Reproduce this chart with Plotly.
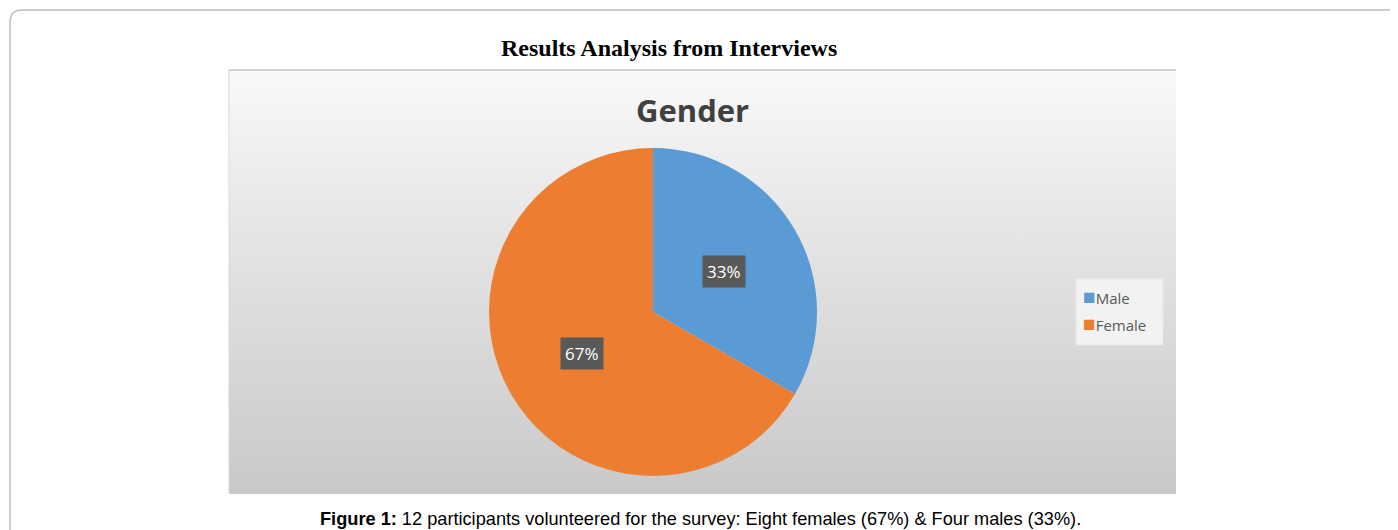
import math
import plotly.graph_objects as go

# ---- data ----
categories = ["Male", "Female"]
counts = [4, 8]
colors = ["#5B9BD5", "#ED7D31"]
page_title = "Results Analysis from Interviews"
chart_title = "Gender"
caption_bold = "Figure 1:"
caption_text = " 12 participants volunteered for the survey: Eight females (67%) & Four males (33%)."

OFF = 8                      # browser body margin
W, H = 1398 - OFF, 530 - OFF  # figure size


def fx(p):  # window pixel -> paper x
    return (p - OFF) / W


def fy(p):  # window pixel -> paper y
    return 1 - (p - OFF) / H


panel = (229, 70, 1176, 494)
pie_cx, pie_cy, pie_r = 653, 312, 164

fig = go.Figure()

px0, py0, px1, py1 = panel
fig.add_trace(go.Scatter(
    x=[px0, px1, px1, px0, px0], y=[py0, py0, py1, py1, py0],
    mode="lines", line=dict(width=0), fill="toself",
    fillgradient=dict(type="vertical",
                      colorscale=[[0, "#c9c9c9"], [0.55, "#e2e2e2"], [1, "#f9f9f9"]]),
    hoverinfo="skip", showlegend=False))

fig.add_trace(go.Pie(
    labels=categories, values=counts, sort=False, direction="clockwise",
    rotation=0, marker=dict(colors=colors, line=dict(width=0)),
    textinfo="none", hoverinfo="label+percent", showlegend=False,
    domain=dict(x=[fx(pie_cx - pie_r), fx(pie_cx + pie_r)],
                y=[fy(pie_cy + pie_r), fy(pie_cy - pie_r)]),
))

total = sum(counts)
annotations = []
start = 0.0
for v in counts:
    frac = v / total
    mid = (start + frac / 2) * 2 * math.pi
    start += frac
    lx = pie_cx + 0.5 * pie_r * math.sin(mid)
    ly = pie_cy - 0.5 * pie_r * math.cos(mid)
    annotations.append(dict(
        x=fx(lx), y=fy(ly), xref="paper", yref="paper", xanchor="center", yanchor="middle",
        text=f"{round(frac * 100)}%", showarrow=False,
        font=dict(family="Open Sans", size=17, color="white"),
        bgcolor="#595959", borderpad=4))

annotations += [
    dict(x=fx(669), y=fy(48), xref="paper", yref="paper", xanchor="center", yanchor="middle",
         text=f"<b>{page_title}</b>", showarrow=False,
         font=dict(family="Liberation Serif", size=24, color="black")),
    dict(x=fx(692), y=fy(110), xref="paper", yref="paper", xanchor="center", yanchor="middle",
         text=f"<b>{chart_title}</b>", showarrow=False,
         font=dict(family="Open Sans", size=31, color="#404040")),
    dict(x=fx(700), y=fy(519), xref="paper", yref="paper", xanchor="center", yanchor="middle",
         text=f"<b>{caption_bold}</b>{caption_text}", showarrow=False,
         font=dict(family="Liberation Sans", size=18.2, color="black")),
]

# legend (box + colored squares + labels)
leg_x0, leg_y0, leg_x1, leg_y1 = 1076, 279, 1163, 345
leg_rows = [296, 323]
for name, col, ry in zip(categories, colors, leg_rows):
    annotations.append(dict(
        x=fx(1081), y=fy(ry), xref="paper", yref="paper", xanchor="left", yanchor="middle",
        text=f"<span style='color:{col};font-size:21px'>■</span>{name}", showarrow=False,
        font=dict(family="Open Sans", size=15, color="#595959")))

shapes = [
    dict(type="path", xref="paper", yref="paper", layer="below",
         path=f"M {fx(10)},{-0.05} L {fx(10)},{fy(22)} Q {fx(10)},{fy(10)} {fx(22)},{fy(10)} L {1.05},{fy(10)}",
         line=dict(color="#bdbdbd", width=1.5)),
    dict(type="line", xref="paper", yref="paper", x0=fx(px0), x1=fx(px1), y0=fy(py0), y1=fy(py0),
         line=dict(color="#c4c4c4", width=1.5)),
    dict(type="line", xref="paper", yref="paper", x0=fx(px0), x1=fx(px0), y0=fy(py0), y1=fy(py1),
         line=dict(color="#d8d8d8", width=1)),
    dict(type="rect", xref="paper", yref="paper", layer="above",
         x0=fx(leg_x0), x1=fx(leg_x1), y0=fy(leg_y1), y1=fy(leg_y0),
         fillcolor="#f2f2f2", line=dict(color="#e8e8e8", width=1)),
]

fig.update_layout(
    width=W, height=H, margin=dict(l=0, r=0, t=0, b=0),
    paper_bgcolor="white", plot_bgcolor="rgba(0,0,0,0)",
    xaxis=dict(range=[OFF, OFF + W], visible=False, fixedrange=True),
    yaxis=dict(range=[OFF + H, OFF], visible=False, fixedrange=True),
    showlegend=False,
    annotations=annotations, shapes=shapes,
)

fig.write_html("out.html")
